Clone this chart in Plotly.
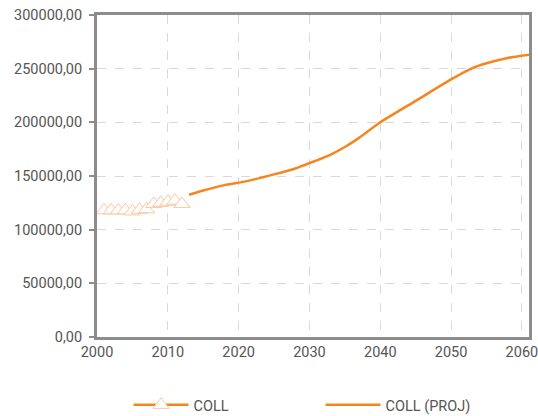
import plotly.graph_objects as go

obs_years = [2001, 2002, 2003, 2004, 2005, 2006, 2007, 2008, 2009, 2010, 2011, 2012]
obs_values = [118000, 118000, 118000, 118000, 117000, 118500, 119000, 124000, 125000, 126000, 127000, 124000]

proj_years = [2013, 2015, 2018, 2021, 2025, 2028, 2030, 2033, 2035, 2037, 2040, 2045, 2050, 2053, 2055, 2058, 2061]
proj_values = [132500, 136500, 141500, 145000, 151500, 157000, 162000, 170000, 177000, 185500, 200000, 220000, 240000, 250500, 255000, 260000, 263000]

y_ticks = [0, 50000, 100000, 150000, 200000, 250000, 300000]
y_labels = ["0,00", "50000,00", "100000,00", "150000,00", "200000,00", "250000,00", "300000,00"]
x_ticks = [2000, 2010, 2020, 2030, 2040, 2050, 2060]

orange = "#f5861f"
font_fam = "Roboto"
txt = "#555555"

fig = go.Figure()
fig.add_trace(go.Scatter(
    x=obs_years, y=obs_values, name="COLL", mode="lines+markers",
    line=dict(color=orange, width=2.5),
    marker=dict(symbol="triangle-up", size=14, color="white",
                line=dict(color="#fbc7a0", width=1)),
))
fig.add_trace(go.Scatter(
    x=proj_years, y=proj_values, name="COLL (PROJ)", mode="lines",
    line=dict(color=orange, width=2.5, shape="spline", smoothing=0.6),
))

axis_common = dict(
    showline=True, linecolor="#8c8c8c", linewidth=3, mirror=True,
    showgrid=True, gridcolor="#d9d9d9", griddash="dash", gridwidth=1,
    zeroline=False, automargin=False, ticklabeloverflow="allow",
    tickfont=dict(family=font_fam, size=14.5, color=txt),
)

fig.update_layout(
    width=538, height=416,
    margin=dict(l=97, r=9, t=15, b=79, autoexpand=False),
    plot_bgcolor="white", paper_bgcolor="white",
    font=dict(family=font_fam, size=14.5, color=txt),
    xaxis=dict(range=[2000, 2061], tickvals=x_ticks, ticks="", **axis_common),
    yaxis=dict(range=[0, 300000], tickvals=y_ticks, ticktext=y_labels,
               ticks="outside", ticklen=5, tickcolor="#8c8c8c", tickwidth=2,
               ticklabelstandoff=4, **axis_common),
    legend=dict(orientation="h", x=0.073, xanchor="left", y=-0.211, yanchor="middle",
                entrywidth=122, entrywidthmode="pixels", itemwidth=55,
                font=dict(family=font_fam, size=14.5, color=txt)),
    showlegend=True,
)

fig.write_html("out.html", config={"displayModeBar": False},
               post_script="document.body.style.margin='0px';document.body.style.padding='0px';")
